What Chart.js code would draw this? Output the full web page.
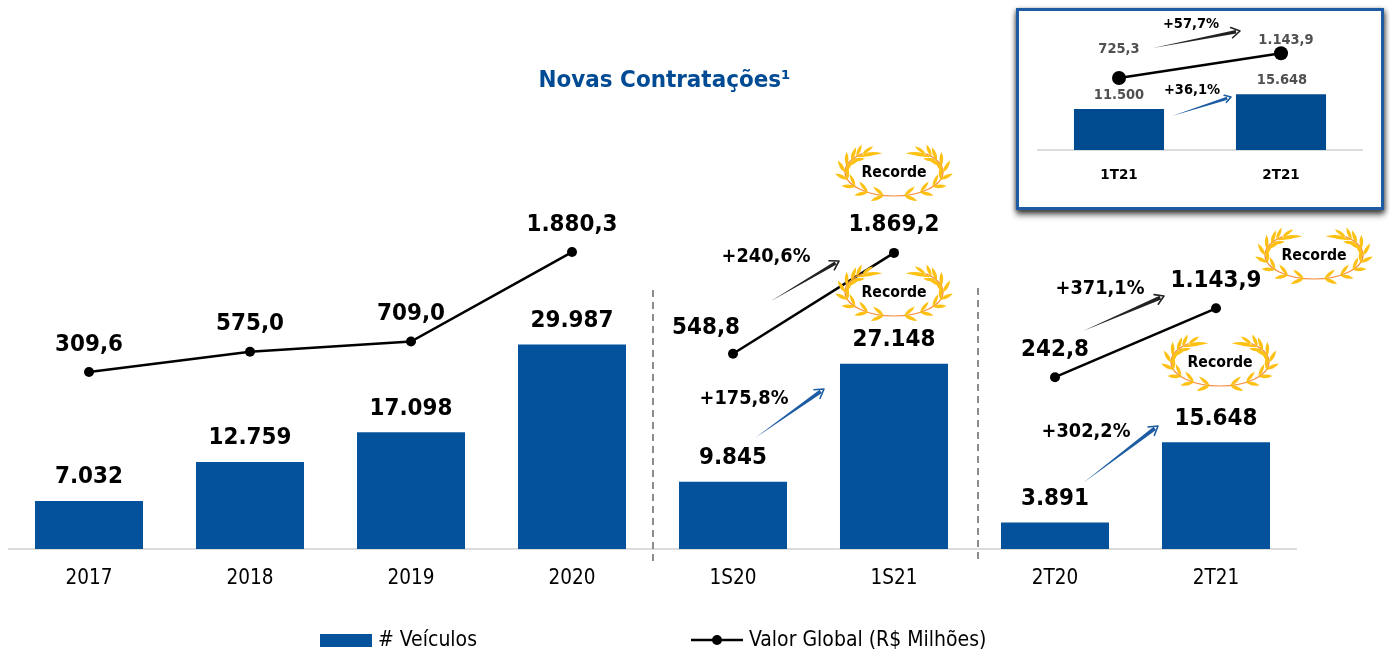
<!DOCTYPE html>
<html lang="pt-BR">
<head>
<meta charset="utf-8">
<title>Novas Contratações</title>
<script src="https://cdn.jsdelivr.net/npm/chart.js@4"></script>
<style>
  html, body { margin: 0; padding: 0; background: #fff; overflow: hidden; }
  #main { position: absolute; left: 0; top: 0; }
  #box { position: absolute; left: 1016px; top: 8px; width: 362px; height: 196px; background: #fff;
         border: 3px solid #1d5ca3; box-shadow: 0 5px 6px rgba(0,0,0,.55), -1px 1px 4px rgba(0,0,0,.3), 2px 2px 5px rgba(0,0,0,.35); }
  #inset { position: absolute; left: 0; top: 0; }
</style>
</head>
<body>
<canvas id="main" width="1390" height="653"></canvas>
<div id="box"><canvas id="inset" width="362" height="196"></canvas></div>
<script>
const categories = ['2017', '2018', '2019', '2020', '1S20', '1S21', '2T20', '2T21'];
const vehicles = [7032, 12759, 17098, 29987, 9845, 27148, 3891, 15648];
const globalValue = [309.6, 575.0, 709.0, 1880.3, 548.8, 1869.2, 242.8, 1143.9];
const insetCategories = ['1T21', '2T21'];
const insetVehicles = [11500, 15648];
const insetGlobalValue = [725.3, 1143.9];
const vehiclesLabel = '# Veículos';
const globalLabel = 'Valor Global (R$ Milhões)';
const titleText = 'Novas Contratações¹';
const recordText = 'Recorde';

const BLUE = '#05529c', INSET_BLUE = '#004a90';
const BOLD = 'DejaVu Sans';
const REG = '"DejaVu Sans Condensed", "Noto Sans"';
const fmtInt = v => v.toLocaleString('pt-BR');
const fmtDec = v => v.toLocaleString('pt-BR', { minimumFractionDigits: 1, maximumFractionDigits: 1 });

function text(ctx, s, x, y, font, color, sx, align) {
  ctx.save();
  ctx.translate(x, y);
  ctx.scale(sx || 1, 1);
  ctx.font = font; ctx.fillStyle = color;
  ctx.textAlign = align || 'center'; ctx.textBaseline = 'middle';
  ctx.fillText(s, 0, 0);
  ctx.restore();
}
function arrow(ctx, x0, y0, x1, y1, color, w, head) {
  const dx = x1 - x0, dy = y1 - y0, L = Math.hypot(dx, dy), ux = dx / L, uy = dy / L, nx = -uy, ny = ux;
  ctx.save();
  ctx.fillStyle = color; ctx.strokeStyle = color;
  ctx.beginPath();
  ctx.moveTo(x0, y0);
  ctx.lineTo(x1 - ux * 4 + nx * w / 2, y1 - uy * 4 + ny * w / 2);
  ctx.lineTo(x1 - ux * 4 - nx * w / 2, y1 - uy * 4 - ny * w / 2);
  ctx.closePath(); ctx.fill();
  ctx.lineWidth = 1.6; ctx.lineCap = 'round'; ctx.lineJoin = 'round';
  const a = 0.55, cs = Math.cos(a), sn = Math.sin(a);
  ctx.beginPath();
  ctx.moveTo(x1 - head * (ux * cs - uy * sn), y1 - head * (uy * cs + ux * sn));
  ctx.lineTo(x1, y1);
  ctx.lineTo(x1 - head * (ux * cs + uy * sn), y1 - head * (uy * cs - ux * sn));
  ctx.stroke();
  ctx.restore();
}
function leaf(ctx, x, y, ang, len, wid) {
  ctx.save();
  ctx.translate(x, y); ctx.rotate(ang);
  ctx.beginPath();
  ctx.moveTo(0, 0);
  ctx.quadraticCurveTo(len * 0.45, wid, len, 0);
  ctx.quadraticCurveTo(len * 0.45, -wid, 0, 0);
  ctx.fill();
  ctx.restore();
}
function wreath(ctx, cx, cy) {
  const rx = 49, ry = 24;
  ctx.save();
  ctx.translate(cx, cy);
  [1, -1].forEach(side => {
    ctx.save();
    ctx.scale(side, 1);
    ctx.strokeStyle = '#f58c40'; ctx.lineWidth = 1.2;
    ctx.beginPath();
    ctx.ellipse(0, 0, rx, ry, 0, Math.PI / 2, -50 * Math.PI / 180, true);
    ctx.stroke();
    ctx.fillStyle = '#fdc113';
    [78, 58, 38, 19, 1, -15, -29].forEach(deg => {
      const t = deg * Math.PI / 180;
      const x = rx * Math.cos(t), y = ry * Math.sin(t);
      const tan = Math.atan2(-ry * Math.cos(t), rx * Math.sin(t));
      leaf(ctx, x, y, tan + 0.5, 14, 3.7);
      leaf(ctx, x, y, tan - 0.6, 14, 3.4);
    });
    const e1 = -40 * Math.PI / 180, e2 = -50 * Math.PI / 180;
    leaf(ctx, rx * Math.cos(e1), ry * Math.sin(e1), Math.PI + 0.12, 21, 3);
    leaf(ctx, rx * Math.cos(e1), ry * Math.sin(e1), -Math.PI / 2 - 0.4, 13, 3.6);
    leaf(ctx, rx * Math.cos(e2), ry * Math.sin(e2), Math.PI + 0.02, 20, 3);
    leaf(ctx, rx * Math.cos(e2), ry * Math.sin(e2), Math.PI + 0.6, 13, 3.2);
    ctx.restore();
  });
  ctx.restore();
  text(ctx, recordText, cx, cy + 0.5, 'bold 15.5px "' + BOLD + '"', '#000', 0.91);
}

const mainOverlay = {
  id: 'mainOverlay',
  afterDatasetsDraw(chart) {
    const ctx = chart.ctx, xs = chart.scales.x, y = chart.scales.y, y2 = chart.scales.y2;
    const bigFont = 'bold 23px "' + BOLD + '"', pctFont = 'bold 19px "' + BOLD + '"';
    const bigS = 0.935, pctS = 0.935;

    text(ctx, titleText, 664.5, 81, 'bold 23.5px "' + BOLD + '"', '#004b93', 0.915);

    vehicles.forEach((v, i) => {
      text(ctx, fmtInt(v), xs.getPixelForValue(i), y.getPixelForValue(v) - 23.5, bigFont, '#000', bigS);
    });
    const shiftX = { 4: -27 };
    const shiftY = { 4: -25.5 };
    globalValue.forEach((v, i) => {
      text(ctx, fmtDec(v), xs.getPixelForValue(i) + (shiftX[i] || 0),
           y2.getPixelForValue(v) + (shiftY[i] || -27.5), bigFont, '#000', bigS);
    });

    ctx.save();
    ctx.strokeStyle = '#8c8c8c'; ctx.lineWidth = 2; ctx.setLineDash([7, 5]);
    [[653, 290], [978, 288]].forEach(([x, top]) => {
      ctx.beginPath(); ctx.moveTo(x, top); ctx.lineTo(x, 564); ctx.stroke();
    });
    ctx.restore();

    arrow(ctx, 771, 301, 839, 261, '#222', 3.5, 10);
    arrow(ctx, 755, 438, 824, 389, '#1d5ca3', 4, 10);
    arrow(ctx, 1083, 331, 1164, 296, '#222', 4, 10);
    arrow(ctx, 1083, 483, 1158, 426, '#1d5ca3', 4, 10);
    text(ctx, '+240,6%', 766, 257.5, pctFont, '#000', pctS);
    text(ctx, '+175,8%', 744, 399.5, pctFont, '#000', pctS);
    text(ctx, '+371,1%', 1100, 289.5, pctFont, '#000', pctS);
    text(ctx, '+302,2%', 1086, 432.5, pctFont, '#000', pctS);

    wreath(ctx, 894, 172);
    wreath(ctx, 894, 292);
    wreath(ctx, 1314, 255);
    wreath(ctx, 1220, 362);

    ctx.save();
    ctx.fillStyle = BLUE;
    ctx.fillRect(320, 634, 52, 13);
    ctx.strokeStyle = '#000'; ctx.lineWidth = 2.5;
    ctx.beginPath(); ctx.moveTo(691, 640); ctx.lineTo(743, 640); ctx.stroke();
    ctx.fillStyle = '#000';
    ctx.beginPath(); ctx.arc(717, 640, 5, 0, Math.PI * 2); ctx.fill();
    ctx.restore();
    const legFont = '21px ' + REG;
    text(ctx, chart.data.datasets[1].label, 378, 641, legFont, '#000', 1, 'left');
    text(ctx, chart.data.datasets[0].label, 749, 641, legFont, '#000', 1, 'left');
  }
};

new Chart(document.getElementById('main'), {
  data: {
    labels: categories,
    datasets: [
      { type: 'line', label: globalLabel, data: globalValue, yAxisID: 'y2', order: 1,
        borderColor: '#000', backgroundColor: '#000', borderWidth: 2.5, tension: 0,
        pointRadius: 5, pointHoverRadius: 5, pointBorderWidth: 0, pointBackgroundColor: '#000', pointBorderColor: '#000',
        segment: { borderColor: c => (c.p0DataIndex === 3 || c.p0DataIndex === 5) ? 'rgba(0,0,0,0)' : undefined } },
      { type: 'bar', label: vehiclesLabel, data: vehicles, yAxisID: 'y', order: 2,
        backgroundColor: BLUE, borderWidth: 0, categoryPercentage: 1, barPercentage: 0.671 }
    ]
  },
  options: {
    responsive: false, animation: false,
    layout: { autoPadding: false, padding: { left: 8.5, right: 93.5, top: 100, bottom: 0 } },
    plugins: { legend: { display: false }, tooltip: { enabled: false } },
    scales: {
      x: { offset: true, grid: { display: false, drawTicks: false },
           border: { display: true, color: '#dcdcdc', width: 2 },
           ticks: { color: '#000', font: { family: 'DejaVu Sans Condensed, Noto Sans', size: 20.5 }, padding: 17, maxRotation: 0, autoSkip: false },
           afterFit: s => { s.height = 104; } },
      y: { display: false, min: 0, max: 65800 },
      y2: { display: false, min: -2006, max: 3870 }
    }
  },
  plugins: [mainOverlay]
});

const insetOverlay = {
  id: 'insetOverlay',
  afterDatasetsDraw(chart) {
    const ctx = chart.ctx, xs = chart.scales.x, y = chart.scales.y, y2 = chart.scales.y2;
    const ox = 1019, oy = 11, f = 'bold 14.5px "' + BOLD + '"', g = '#505050', s = 0.9;
    const shiftL = [[0, -28.5], [5, -13]];
    insetVehicles.forEach((v, i) => {
      text(ctx, fmtInt(v), xs.getPixelForValue(i) + (i ? 1 : 0), y.getPixelForValue(v) - 14, f, g, s);
    });
    insetGlobalValue.forEach((v, i) => {
      text(ctx, fmtDec(v), xs.getPixelForValue(i) + shiftL[i][0], y2.getPixelForValue(v) + shiftL[i][1], f, g, s);
    });
    arrow(ctx, 1153 - ox, 48 - oy, 1240 - ox, 31 - oy, '#222', 3.5, 10);
    arrow(ctx, 1172 - ox, 116 - oy, 1231 - ox, 97 - oy, '#1d5ca3', 3, 7);
    text(ctx, '+57,7%', 1191 - ox, 24 - oy, f, '#000', s);
    text(ctx, '+36,1%', 1192 - ox, 90 - oy, f, '#000', s);
  }
};

new Chart(document.getElementById('inset'), {
  data: {
    labels: insetCategories,
    datasets: [
      { type: 'line', data: insetGlobalValue, yAxisID: 'y2', order: 1, borderColor: '#000', borderWidth: 2.5, tension: 0,
        pointRadius: 7, pointHoverRadius: 7, pointBorderWidth: 0, pointBackgroundColor: '#000', pointBorderColor: '#000' },
      { type: 'bar', data: insetVehicles, yAxisID: 'y', order: 2,
        backgroundColor: INSET_BLUE, borderWidth: 0, categoryPercentage: 1, barPercentage: 0.556 }
    ]
  },
  options: {
    responsive: false, animation: false,
    layout: { autoPadding: false, padding: { left: 19, right: 19, top: 0, bottom: 0 } },
    plugins: { legend: { display: false }, tooltip: { enabled: false } },
    scales: {
      x: { offset: true, grid: { display: false, drawTicks: false },
           border: { display: true, color: '#dcdcdc', width: 2 },
           ticks: { color: '#000', font: { family: BOLD, size: 13.5, weight: 'bold' }, padding: 17, maxRotation: 0, autoSkip: false },
           afterFit: s => { s.height = 57; } },
      y: { display: false, min: 0, max: 39000 },
      y2: { display: false, min: -495, max: 1861 }
    }
  },
  plugins: [insetOverlay]
});
</script>
</body>
</html>
